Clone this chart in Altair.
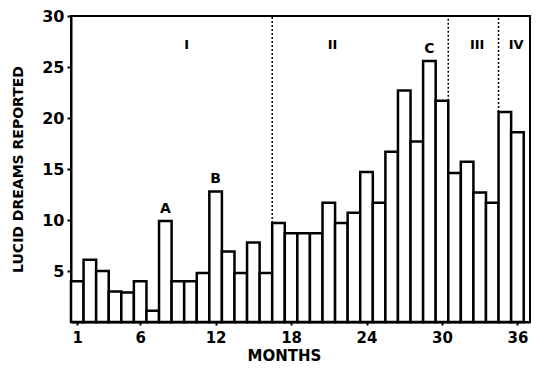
import altair as alt
import pandas as pd

# ---- data ----
months = list(range(1, 37))
dreams = [4.0, 6.1, 5.0, 3.0, 2.9, 4.0, 1.1, 9.9, 4.0, 4.0, 4.8, 12.8,
          6.9, 4.8, 7.8, 4.8, 9.7, 8.7, 8.7, 8.7, 11.7, 9.7, 10.7, 14.7,
          11.7, 16.7, 22.7, 17.7, 25.6, 21.7, 14.6, 15.7, 12.7, 11.7, 20.6, 18.6]

divider_x = [16.5, 30.5, 34.5]
divider_bottom = [9.7, 21.7, 20.6]

peak_labels = ["A", "B", "C"]
peak_months = [8, 12, 29]

phase_labels = ["I", "II", "III", "IV"]
phase_x = [9.7, 21.3, 32.8, 35.9]
phase_y = [27.2, 27.2, 27.2, 27.2]

x_ticks = [1, 6, 12, 18, 24, 30, 36]
y_ticks = [5, 10, 15, 20, 25, 30]

FONT = "DejaVu Sans"

bars_df = pd.DataFrame({"month": months, "dreams": dreams})
div_df = pd.DataFrame({"x": divider_x, "bottom": divider_bottom, "top": [30] * len(divider_x)})
peak_df = pd.DataFrame({"label": peak_labels, "month": peak_months,
                        "value": [dreams[m - 1] for m in peak_months]})
phase_df = pd.DataFrame({"label": phase_labels, "x": phase_x, "y": phase_y})

xscale = alt.Scale(domain=[0.5, 37], nice=False, zero=False)
yscale = alt.Scale(domain=[0, 30], nice=False)

bars = alt.Chart(bars_df).transform_calculate(
    x0="datum.month - 0.5", x1="datum.month + 0.5"
).mark_rect(fill="white", stroke="black", strokeWidth=2.5).encode(
    x=alt.X("x0:Q", scale=xscale,
            axis=alt.Axis(values=x_ticks, title="MONTHS", labelFontSize=15,
                          labelFontWeight="bold", labelFont=FONT, labelPadding=5,
                          tickSize=3, titleFont=FONT, titleFontSize=15,
                          titleFontWeight="bold", titleX=213, titleY=33,
                          titleBaseline="middle", titleAlign="center")),
    x2="x1:Q",
    y=alt.Y("dreams:Q", scale=yscale,
            axis=alt.Axis(values=y_ticks, title="LUCID DREAMS REPORTED",
                          labelFontSize=16, labelFontWeight="bold", labelFont=FONT,
                          labelPadding=3, tickSize=4, titleFont=FONT,
                          titleFontSize=14, titleFontWeight="bold", titlePadding=16)),
    y2=alt.datum(0),
)

dividers = alt.Chart(div_df).mark_rule(color="black", strokeWidth=1.5,
                                       strokeDash=[2, 2]).encode(
    x=alt.X("x:Q", scale=xscale), y=alt.Y("bottom:Q", scale=yscale), y2="top:Q"
)

peaks = alt.Chart(peak_df).mark_text(font=FONT, fontSize=14, fontWeight="bold",
                                     baseline="bottom", dy=-5, color="black").encode(
    x=alt.X("month:Q", scale=xscale), y=alt.Y("value:Q", scale=yscale), text="label:N"
)

phases = alt.Chart(phase_df).mark_text(font=FONT, fontSize=13, fontWeight="bold",
                                       baseline="middle", color="black").encode(
    x=alt.X("x:Q", scale=xscale), y=alt.Y("y:Q", scale=yscale), text="label:N"
)

chart = alt.layer(bars, dividers, peaks, phases).properties(
    width=459, height=306,
    autosize=alt.AutoSizeParams(type="none"),
    padding={"left": 71, "top": 16, "right": 30, "bottom": 49},
    background="white",
).configure_view(stroke="black", strokeWidth=2).configure_axis(
    grid=False, domainColor="black", domainWidth=2, tickColor="black",
    tickWidth=2, labelColor="black", titleColor="black"
)

chart.save("out.html", embed_options={"renderer": "svg", "actions": False})
